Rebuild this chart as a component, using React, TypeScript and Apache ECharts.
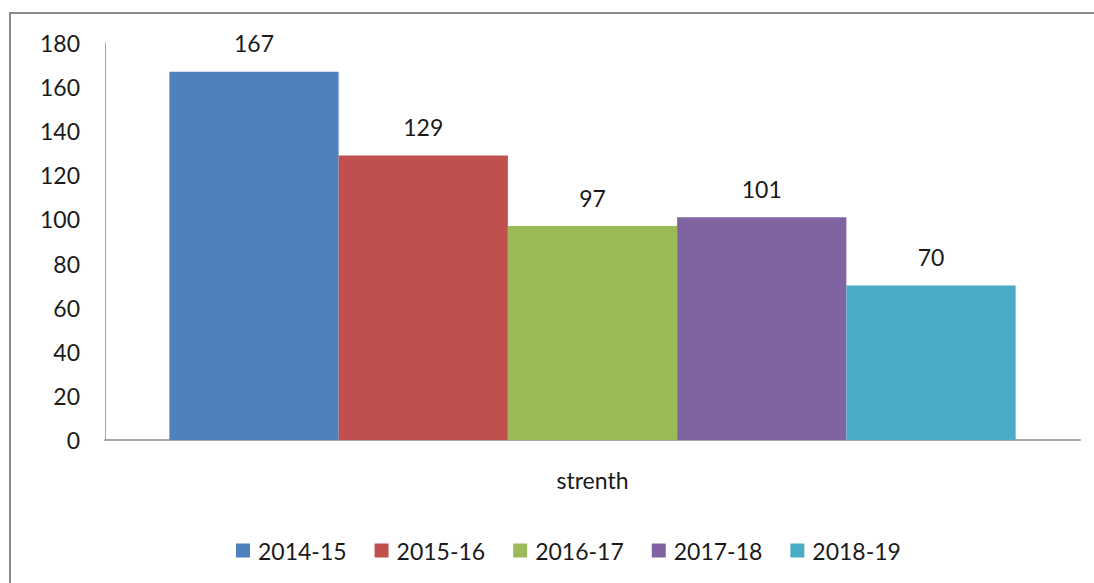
import React, { useEffect, useRef } from "react";
import * as echarts from "echarts";

const categories = ["strenth"];
const seriesNames = ["2014-15", "2015-16", "2016-17", "2017-18", "2018-19"];
const seriesValues = [167, 129, 97, 101, 70];
const colors = ["#4F81BD", "#C0504D", "#9BBB59", "#8064A2", "#4BACC6"];
const yTicks = { min: 0, max: 180, interval: 20 };

const FONT = "Lato";
const FS = 23;

export default function App() {
  const ref = useRef<HTMLDivElement>(null);
  useEffect(() => {
    const chart = echarts.init(ref.current!, null, { renderer: "svg" });
    chart.setOption({
      animation: false,
      backgroundColor: "#ffffff",
      graphic: [
        {
          type: "rect",
          shape: { x: 10, y: 13, width: 1200, height: 700 },
          style: { fill: "none", stroke: "#8a8a8a", lineWidth: 2 },
          silent: true,
        },
      ],
      grid: { left: 105, right: 14, top: 43, bottom: 143 },
      legend: {
        top: 534,
        left: 231,
        itemWidth: 14,
        itemHeight: 14,
        itemGap: 28,
        icon: "rect",
        textStyle: { fontFamily: FONT, fontSize: FS, color: "#1a1a1a", padding: [0, 0, 0, 3] },
        data: seriesNames,
      },
      xAxis: {
        type: "category",
        data: categories,
        axisLine: { lineStyle: { color: "#A6A6A6", width: 2 } },
        axisTick: { show: false },
        axisLabel: { margin: 28, fontFamily: FONT, fontSize: FS, color: "#1a1a1a" },
      },
      yAxis: {
        type: "value",
        min: yTicks.min,
        max: yTicks.max,
        interval: yTicks.interval,
        axisLine: { show: true, lineStyle: { color: "#A6A6A6", width: 1 } },
        axisTick: { show: false },
        splitLine: { show: false },
        axisLabel: { margin: 25, fontFamily: FONT, fontSize: FS, color: "#1a1a1a" },
      },
      series: seriesNames.map((name, i) => ({
        type: "bar",
        name,
        data: [seriesValues[i]],
        barGap: "0%",
        barCategoryGap: "13.2%",
        itemStyle: { color: colors[i] },
        label: {
          show: true,
          position: "top",
          distance: 17,
          fontFamily: FONT,
          fontSize: FS,
          color: "#1a1a1a",
        },
      })),
    });
    return () => chart.dispose();
  }, []);
  return (
    <div
      ref={ref}
      style={{ position: "fixed", left: 0, top: 0, width: 1094, height: 583 }}
    />
  );
}
